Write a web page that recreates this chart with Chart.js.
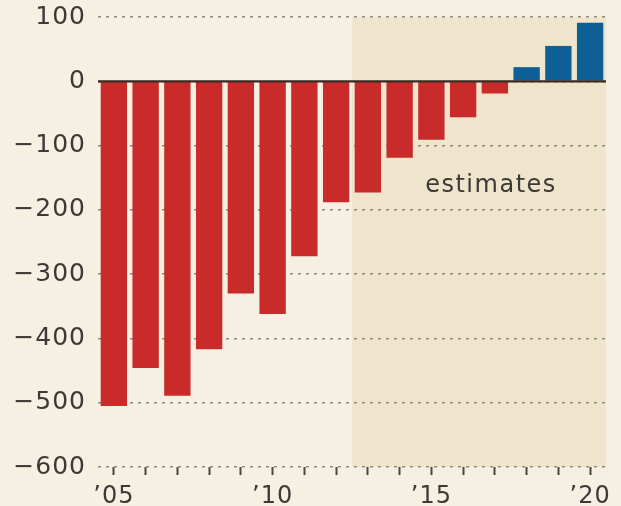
<!DOCTYPE html>
<html>
<head>
<meta charset="utf-8">
<script src="https://cdn.jsdelivr.net/npm/chart.js@4"></script>
<style>
  html, body { margin: 0; padding: 0; background: #f6f0e3; }
  #wrap { width: 621px; height: 506px; }
</style>
</head>
<body>
<div id="wrap"><canvas id="myChart" width="621" height="506"></canvas></div>
<script>
// data
var years = ['2005', '2006', '2007', '2008', '2009', '2010', '2011', '2012', '2013', '2014', '2015', '2016', '2017', '2018', '2019', '2020'];
var balance = [-505, -446, -489, -417, -330, -362, -272, -188, -173, -119, -91, -56, -19, 22, 55, 91];
var yTicks = [100, 0, -100, -200, -300, -400, -500, -600];
var xLabels = { '2005': '\u201905', '2010': '\u201910', '2015': '\u201915', '2020': '\u201920' };
var firstEstimate = '2013';

var red = '#c92b2a';
var blue = '#0d5f95';
var textColor = '#3b3a35';
var fontFamily = 'DejaVu Sans';

// shaded "estimates" area behind the grid
var shadePlugin = {
    id: 'shade',
    beforeDraw: function (chart) {
        var ctx = chart.ctx;
        var area = chart.chartArea;
        var x = chart.scales.x;
        var i = years.indexOf(firstEstimate);
        var left = x.getPixelForValue(i) - (x.getPixelForValue(1) - x.getPixelForValue(0)) / 2;
        ctx.save();
        ctx.fillStyle = '#efe4cc';
        ctx.fillRect(left, area.top, area.right - left, area.bottom - area.top);
        ctx.restore();
        ctx.letterSpacing = '1px';
    },
    afterDatasetsDraw: function (chart) {
        var ctx = chart.ctx;
        var area = chart.chartArea;
        var y0 = chart.scales.y.getPixelForValue(0);
        ctx.save();
        ctx.strokeStyle = '#3a2a22';
        ctx.lineWidth = 2.2;
        ctx.beginPath();
        ctx.moveTo(area.left, y0);
        ctx.lineTo(area.right, y0);
        ctx.stroke();

        ctx.fillStyle = textColor;
        ctx.font = '24px ' + fontFamily;
        ctx.letterSpacing = '1.5px';
        ctx.textAlign = 'center';
        ctx.textBaseline = 'middle';
        ctx.fillText('estimates', 491, chart.scales.y.getPixelForValue(-162));
        ctx.restore();
    }
};

window.onload = function () {

    var ctx = document.getElementById('myChart').getContext('2d');

    var myChart = new Chart(ctx, {
        type: 'bar',
        data: {
            labels: years,
            datasets: [{
                data: balance,
                backgroundColor: balance.map(function (v) { return v < 0 ? red : blue; }),
                borderWidth: 0,
                barPercentage: 0.83,
                categoryPercentage: 1
            }]
        },
        options: {
            responsive: false,
            animation: false,
            layout: { padding: { top: 17, right: 15, left: 0, bottom: 0 } },
            plugins: {
                legend: { display: false },
                tooltip: { enabled: false }
            },
            scales: {
                x: {
                    border: { display: false },
                    grid: {
                        offset: false,
                        drawOnChartArea: false,
                        drawTicks: true,
                        tickLength: 8,
                        tickWidth: 2,
                        tickColor: '#4a4740'
                    },
                    ticks: {
                        autoSkip: false,
                        maxRotation: 0,
                        padding: 7,
                        color: textColor,
                        font: { family: fontFamily, size: 24 },
                        callback: function (val, i) {
                            return xLabels[years[i]] || '';
                        }
                    },
                    afterFit: function (scale) { scale.height = 39; }
                },
                y: {
                    min: -600,
                    max: 100,
                    border: { display: false, dash: [3, 5] },
                    grid: {
                        drawTicks: false,
                        color: '#8d897e',
                        lineWidth: 1.5
                    },
                    afterBuildTicks: function (scale) {
                        scale.ticks = yTicks.map(function (v) { return { value: v }; });
                    },
                    ticks: {
                        padding: 12,
                        color: textColor,
                        font: { family: fontFamily, size: 25, lineHeight: 1 },
                        callback: function (v) {
                            return String(v).replace('-', '\u2212');
                        }
                    },
                    afterFit: function (scale) {
                        scale.width = 98;
                        scale.paddingTop = 0;
                        scale.paddingBottom = 0;
                    }
                }
            }
        },
        plugins: [shadePlugin]
    });
};
</script>
</body>
</html>
